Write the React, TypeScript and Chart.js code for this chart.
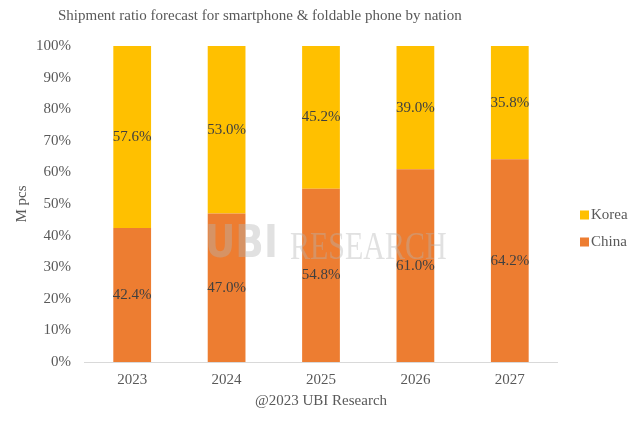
import React, { useEffect, useRef } from "react";
import { Chart, registerables } from "chart.js";

Chart.register(...registerables);

const years = ["2023", "2024", "2025", "2026", "2027"];
const china = [42.4, 47.0, 54.8, 61.0, 64.2];
const korea = [57.6, 53.0, 45.2, 39.0, 35.8];
const yTicks = [0, 10, 20, 30, 40, 50, 60, 70, 80, 90, 100];
const titleText = "Shipment ratio forecast for smartphone & foldable phone by nation";
const xTitle = "@2023 UBI Research";
const yTitle = "M pcs";

const SERIF = "'Liberation Serif', 'Times New Roman', serif";

const decorPlugin = {
  id: "decor",
  afterDraw(chart: any) {
    const ctx = chart.ctx;
    const ca = chart.chartArea;
    ctx.save();
    ctx.font = "15px " + SERIF;
    ctx.fillStyle = "#595959";
    ctx.textAlign = "left";
    ctx.textBaseline = "middle";
    // title
    ctx.fillText(titleText, 58, 16);
    // x axis title
    ctx.textAlign = "center";
    ctx.fillText(xTitle, (ca.left + ca.right) / 2, 401);
    // y axis title
    ctx.save();
    ctx.translate(22, (ca.top + ca.bottom) / 2);
    ctx.rotate(-Math.PI / 2);
    ctx.fillText(yTitle, 0, 0);
    ctx.restore();
    // legend (Korea on top)
    ctx.textAlign = "left";
    const items = [...chart.data.datasets].reverse();
    items.forEach((ds: any, i: number) => {
      const y = 215 + i * 27;
      ctx.fillStyle = ds.backgroundColor;
      ctx.fillRect(580, y - 4.5, 9, 9);
      ctx.fillStyle = "#595959";
      ctx.fillText(ds.label, 591, y);
    });
    ctx.restore();
  },
  afterDatasetsDraw(chart: any) {
    const ctx = chart.ctx;
    ctx.save();
    // watermark
    ctx.fillStyle = "rgba(180,180,180,0.4)";
    ctx.textBaseline = "middle";
    ctx.textAlign = "left";
    ctx.font = "bold 44px 'DejaVu Sans', sans-serif";
    ctx.save();
    ctx.translate(205, 246);
    ctx.scale(0.85, 1);
    ctx.fillText("UBI", 0, 0);
    ctx.restore();
    ctx.save();
    ctx.translate(290, 248);
    ctx.scale(0.75, 1);
    ctx.font = "40px " + SERIF;
    ctx.fillText("RESEARCH", 0, 0);
    ctx.restore();
    // data labels
    ctx.font = "15px " + SERIF;
    ctx.fillStyle = "#404040";
    ctx.textAlign = "center";
    ctx.textBaseline = "middle";
    chart.data.datasets.forEach((ds: any, di: number) => {
      const meta = chart.getDatasetMeta(di);
      meta.data.forEach((el: any, i: number) => {
        const v = ds.data[i];
        const y = (el.y + el.base) / 2;
        ctx.fillText(v.toFixed(1) + "%", el.x, y);
      });
    });
    ctx.restore();
  },
};

export default function App() {
  const ref = useRef<HTMLCanvasElement | null>(null);
  useEffect(() => {
    if (!ref.current) return;
    const chart = new Chart(ref.current, {
      type: "bar",
      data: {
        labels: years,
        datasets: [
          {
            label: "China",
            data: china,
            backgroundColor: "#ED7D31",
            barPercentage: 0.4,
            categoryPercentage: 1,
          },
          {
            label: "Korea",
            data: korea,
            backgroundColor: "#FFC000",
            barPercentage: 0.4,
            categoryPercentage: 1,
          },
        ],
      },
      options: {
        animation: false,
        responsive: false,
        maintainAspectRatio: false,
        layout: { padding: { left: 22, right: 83, top: 46, bottom: 25 } },
        plugins: {
          title: { display: false },
          legend: { display: false },
          tooltip: { enabled: false },
        },
        scales: {
          x: {
            stacked: true,
            grid: { display: false, drawTicks: false, tickLength: 0 },
            border: { display: true, color: "#D9D9D9" },
            ticks: {
              color: "#595959",
              font: { family: SERIF, size: 15 },
              padding: 9,
            },
          },
          y: {
            stacked: true,
            min: 0,
            max: 100,
            afterBuildTicks: (axis: any) => {
              axis.ticks = yTicks.map((v) => ({ value: v }));
            },
            grid: { display: false, drawTicks: false, tickLength: 0 },
            border: { display: false },
            ticks: {
              color: "#595959",
              font: { family: SERIF, size: 15 },
              padding: 14,
              callback: (v: any) => v + "%",
            },
          },
        },
      },
      plugins: [decorPlugin],
    });
    return () => chart.destroy();
  }, []);
  return (
    <div style={{ position: "fixed", left: 0, top: 0, width: 640, height: 423, background: "#fff" }}>
      <canvas ref={ref} width={640} height={423} style={{ width: 640, height: 423 }} />
    </div>
  );
}
